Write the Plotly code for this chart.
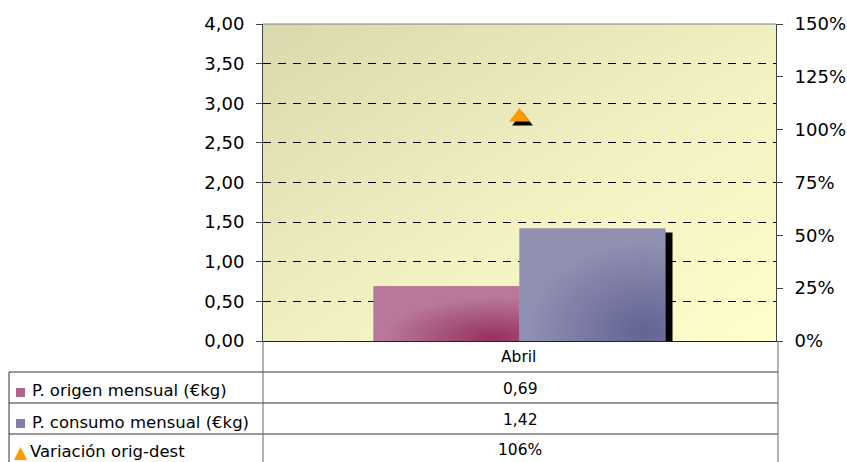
import base64
import plotly.graph_objects as go

# ---- data ----
categories = ["Abril"]
series_names = ["P. origen mensual (€kg)", "P. consumo mensual (€kg)", "Variación orig-dest"]
p_origen = [0.69]
p_consumo = [1.42]
variacion = [1.06]

left_ticks = [0, 0.5, 1, 1.5, 2, 2.5, 3, 3.5, 4]
right_ticks = [0, 0.25, 0.5, 0.75, 1.0, 1.25, 1.5]

W, H = 847, 462
L, R, T, B = 263, 71, 24, 121
PW, PH = W - L - R, H - T - B


def px(x):
    return (x - L) / PW


def py(y):
    return (H - B - y) / PH


FONT = "DejaVu Sans, Verdana, sans-serif"
bar_w = 146 / PW  # in category units (axis range is 1 wide)


def svg_uri(body):
    svg = ('<svg xmlns="http://www.w3.org/2000/svg" width="100" height="100" viewBox="0 0 100 100" '
           'preserveAspectRatio="none">' + body + '</svg>')
    return "data:image/svg+xml;base64," + base64.b64encode(svg.encode()).decode()


bg_src = svg_uri('<defs><linearGradient id="g" x1="0" y1="0" x2="1" y2="1">'
                 '<stop offset="0" stop-color="#d9d9ad"/><stop offset="0.55" stop-color="#f1f1c2"/>'
                 '<stop offset="1" stop-color="#ffffcc"/></linearGradient></defs>'
                 '<rect width="100" height="100" fill="url(#g)"/>')
pink_src = svg_uri('<defs><radialGradient id="p" cx="0.82" cy="0.95" r="0.75">'
                   '<stop offset="0" stop-color="#963062"/><stop offset="1" stop-color="#b8789a"/>'
                   '</radialGradient></defs><rect width="100" height="100" fill="url(#p)"/>')
blue_src = svg_uri('<defs><radialGradient id="b" cx="0.85" cy="0.92" r="0.8">'
                   '<stop offset="0" stop-color="#636395"/><stop offset="1" stop-color="#9090b2"/>'
                   '</radialGradient></defs><rect width="100" height="100" fill="url(#b)"/>')

fig = go.Figure()

# shadow of the front bar
fig.add_trace(go.Bar(x=[0], y=[v - 0.05 for v in p_consumo], width=bar_w, offset=7 / PW,
                     marker=dict(color="black", line=dict(width=0)), hoverinfo="skip", showlegend=False))

fig.add_trace(go.Bar(name=series_names[0], x=[0], y=p_origen, width=bar_w, offset=-bar_w,
                     marker=dict(color="#b0648c", line=dict(width=0)), showlegend=False))
fig.add_trace(go.Bar(name=series_names[1], x=[0], y=p_consumo, width=bar_w, offset=0,
                     marker=dict(color="#7f7fa8", line=dict(width=0)), showlegend=False))

# triangle shadow + triangle
fig.add_trace(go.Scatter(x=[3 / PW], y=[v - 4 * 1.5 / PH for v in variacion], yaxis="y2", mode="markers",
                         marker=dict(symbol="triangle-up", size=18, color="black"),
                         hoverinfo="skip", showlegend=False))
fig.add_trace(go.Scatter(name=series_names[2], x=[0], y=variacion, yaxis="y2", mode="markers",
                         marker=dict(symbol="triangle-up", size=18, color="#ff9900"),
                         showlegend=False))

images = [dict(source=bg_src, xref="paper", yref="paper", x=0, y=1, sizex=1, sizey=1,
               sizing="stretch", layer="below", xanchor="left", yanchor="top")]
# gradient fills laid over the bars, sized from the same data
images.append(dict(source=pink_src, xref="x", yref="y", x=-bar_w, y=p_origen[0], sizex=bar_w,
                   sizey=p_origen[0], sizing="stretch", layer="above", xanchor="left", yanchor="top"))
images.append(dict(source=blue_src, xref="x", yref="y", x=0, y=p_consumo[0], sizex=bar_w,
                   sizey=p_consumo[0], sizing="stretch", layer="above", xanchor="left", yanchor="top"))

shapes = []
line_c = "#333333"


def hline(y, x0, x1, color=line_c):
    shapes.append(dict(type="line", xref="paper", yref="paper", x0=px(x0), x1=px(x1), y0=py(y), y1=py(y),
                       line=dict(color=color, width=1)))


def vline(x, y0, y1, color=line_c):
    shapes.append(dict(type="line", xref="paper", yref="paper", x0=px(x), x1=px(x), y0=py(y0), y1=py(y1),
                       line=dict(color=color, width=1)))


# top border of plot
hline(T, L, L + PW, "#808080")
# table
for yy in (372, 403, 434):
    hline(yy, 9, 778)
vline(9, 372, 462)
vline(263, 341, 462, "#666666")
vline(778, 341, 462, "#666666")

# legend swatches
shapes.append(dict(type="rect", xref="paper", yref="paper", x0=px(16), x1=px(25), y0=py(397), y1=py(388),
                   fillcolor="#b0648c", line=dict(width=0)))
shapes.append(dict(type="rect", xref="paper", yref="paper", x0=px(16), x1=px(25), y0=py(428), y1=py(419),
                   fillcolor="#7f7fa8", line=dict(width=0)))
shapes.append(dict(type="path", xref="paper", yref="paper",
                   path=f"M {px(14)} {py(460)} L {px(27)} {py(460)} L {px(20.5)} {py(447)} Z",
                   fillcolor="#ff9900", line=dict(width=0)))

annotations = []


def txt(x, y, s, anchor="center", size=15.5):
    annotations.append(dict(xref="paper", yref="paper", x=px(x), y=py(y), text=s, showarrow=False,
                            xanchor=anchor, yanchor="middle", font=dict(family=FONT, size=size, color="black")))


txt(518, 357, categories[0])
txt(30, 391, series_names[0], "left", 16.5)
txt(30, 422, series_names[1], "left", 16.5)
txt(28, 451, series_names[2], "left", 16.5)
txt(520, 389, f"{p_origen[0]:.2f}".replace(".", ","))
txt(520, 420, f"{p_consumo[0]:.2f}".replace(".", ","))
txt(520, 450, f"{variacion[0] * 100:.0f}%")

fig.update_layout(
    width=W, height=H,
    margin=dict(l=L, r=R, t=T, b=B, pad=0, autoexpand=False),
    paper_bgcolor="white", plot_bgcolor="rgba(0,0,0,0)",
    separators=",.",
    barmode="overlay",
    showlegend=False,
    font=dict(family=FONT, color="black"),
    images=images,
    xaxis=dict(range=[-0.5, 0.5], showticklabels=False, ticks="", showgrid=False, zeroline=False,
               showline=True, linecolor="#222222", linewidth=1, fixedrange=True, automargin=False),
    yaxis=dict(range=[0, 4], tickvals=left_ticks, tickformat=".2f", ticks="outside", ticklen=6,
               tickcolor="#444444", showline=True, linecolor="#444444", linewidth=1,
               showgrid=True, gridcolor="black", griddash="8px,7px", gridwidth=1, zeroline=False,
               ticklabelstandoff=8, automargin=False,
               tickfont=dict(size=18, family=FONT, color="black")),
    yaxis2=dict(range=[0, 1.5], tickvals=right_ticks, tickformat=".0%", overlaying="y", side="right",
                ticks="outside", ticklen=6, tickcolor="#444444", showline=True, linecolor="#444444",
                linewidth=1, showgrid=False, zeroline=False, ticklabelstandoff=8, automargin=False,
                tickfont=dict(size=18, family=FONT, color="black")),
    shapes=shapes,
    annotations=annotations,
)

fig.write_html("out.html")
